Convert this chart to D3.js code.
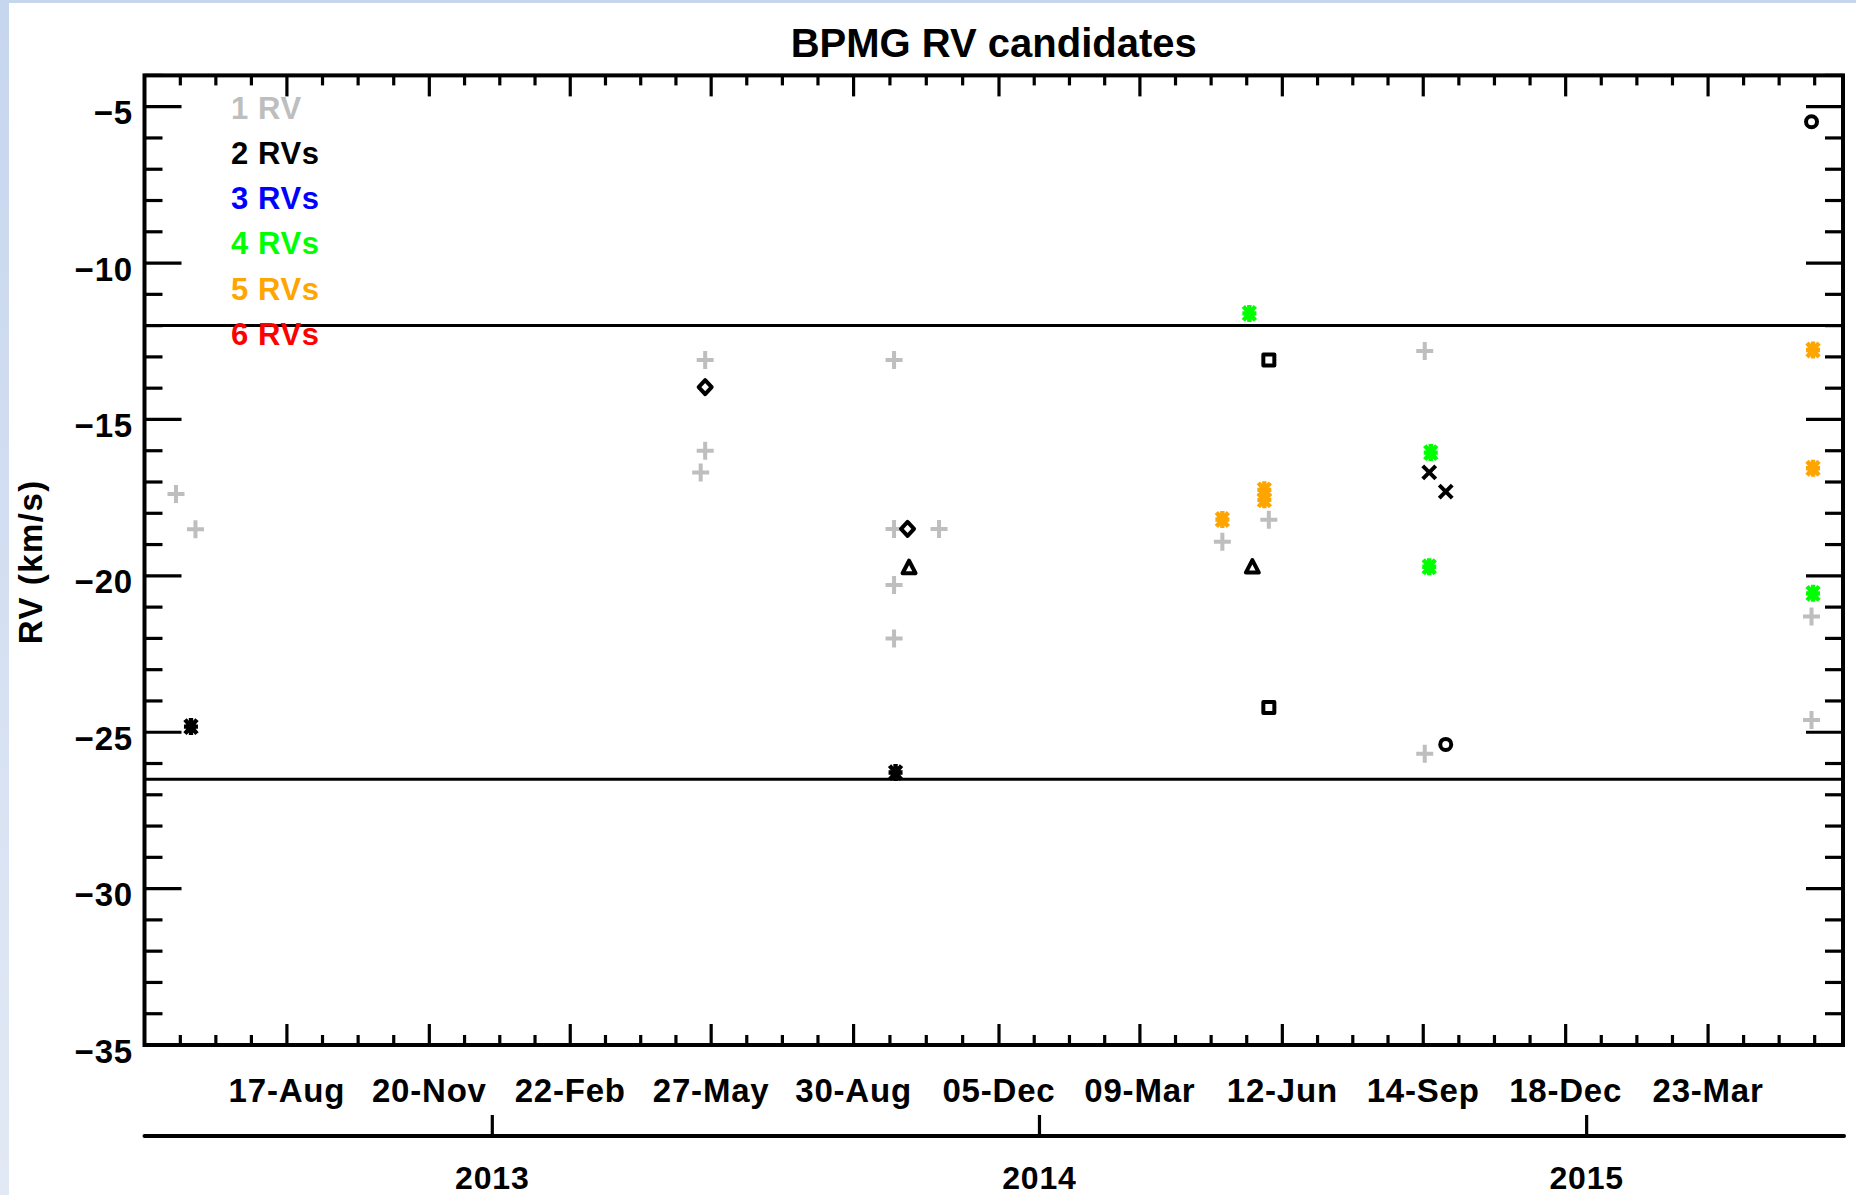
<!DOCTYPE html>
<html><head><meta charset="utf-8">
<script src="https://cdn.jsdelivr.net/npm/d3@7"></script>
<style>html,body{margin:0;padding:0;background:#fff;} svg{display:block;}</style>
</head><body>
<svg id="chart" width="1856" height="1195"></svg>
<script>
// ---------------- data ----------------
const title = "BPMG RV candidates";
const yLabel = "RV (km/s)";
const yDomain = [-35, -4];
const yTickValues = [-35, -30, -25, -20, -15, -10, -5];
const xDomain = ["2012-05-14", "2015-06-21"];
const xTickDates = ["2012-08-17","2012-11-20","2013-02-22","2013-05-27","2013-08-30","2013-12-05","2014-03-09","2014-06-12","2014-09-14","2014-12-18","2015-03-23"];
const xTickLabels = ["17-Aug","20-Nov","22-Feb","27-May","30-Aug","05-Dec","09-Mar","12-Jun","14-Sep","18-Dec","23-Mar"];
const yearTickDates = ["2013-01-01","2014-01-01","2015-01-01"];
const yearLabels = ["2013","2014","2015"];
const refLines = [-12, -26.5];
const legendLabels = ["1 RV","2 RVs","3 RVs","4 RVs","5 RVs","6 RVs"];
const legendColors = ["#bebebe","#000000","#0000ff","#00ff00","#ffa500","#ff0000"];

// [date, RV (km/s), symbol]
const oneRV = [
  ["2012-06-04", -17.38, "plus"], ["2012-06-17", -18.51, "plus"],
  ["2013-05-23", -13.10, "plus"], ["2013-05-23", -16.00, "plus"], ["2013-05-20", -16.70, "plus"],
  ["2013-09-26", -13.10, "plus"], ["2013-09-26", -18.50, "plus"], ["2013-10-26", -18.50, "plus"],
  ["2013-09-26", -20.29, "plus"], ["2013-09-26", -22.00, "plus"],
  ["2014-05-03", -18.91, "plus"], ["2014-06-03", -18.21, "plus"],
  ["2014-09-15", -12.81, "plus"], ["2014-09-15", -25.69, "plus"],
  ["2015-05-31", -21.30, "plus"], ["2015-05-31", -24.61, "plus"]
];
const twoRVs = [
  ["2012-06-14", -24.82, "asterisk"],
  ["2013-05-23", -13.97, "diamond"],
  ["2013-10-05", -18.50, "diamond"],
  ["2013-10-06", -19.74, "triangle"],
  ["2013-09-27", -26.29, "asterisk"],
  ["2014-05-23", -19.72, "triangle"],
  ["2014-06-03", -13.10, "square"],
  ["2014-06-03", -24.21, "square"],
  ["2014-09-18", -16.69, "cross"],
  ["2014-09-29", -17.31, "cross"],
  ["2014-09-29", -25.39, "circle"],
  ["2015-05-31", -5.48, "circle"]
];
const threeRVs = [];
const fourRVs = [
  ["2014-05-21", -11.61, "asterisk"],
  ["2014-09-19", -16.06, "asterisk"],
  ["2014-09-18", -19.71, "asterisk"],
  ["2015-06-01", -20.56, "asterisk"]
];
const fiveRVs = [
  ["2014-05-03", -18.20, "asterisk"],
  ["2014-05-31", -17.25, "asterisk"],
  ["2014-05-31", -17.57, "asterisk"],
  ["2015-06-01", -12.78, "asterisk"],
  ["2015-06-01", -16.56, "asterisk"]
];
const sixRVs = [];
const seriesList = [oneRV, twoRVs, threeRVs, fourRVs, fiveRVs, sixRVs];

// ---------------- layout ----------------
const W = 1856, H = 1195;
const L = 144.5, R = 1843, T = 75.4, B = 1045;
const FONT = "'Liberation Sans', Arial, sans-serif";
const parse = d3.utcParse("%Y-%m-%d");

const svg = d3.select("#chart");
svg.append("rect").attr("width", W).attr("height", H).attr("fill", "#fff");

// window frame (light blue edges)
const defs = svg.append("defs");
const grad = defs.append("linearGradient").attr("id", "edge").attr("x1", 0).attr("y1", 0).attr("x2", 0).attr("y2", 1);
grad.append("stop").attr("offset", "0%").attr("stop-color", "#c6d6ee");
grad.append("stop").attr("offset", "100%").attr("stop-color", "#e2e9f5");
svg.append("rect").attr("x", 0).attr("y", 0).attr("width", 9).attr("height", H).attr("fill", "url(#edge)");
svg.append("rect").attr("x", 0).attr("y", 0).attr("width", W).attr("height", 3).attr("fill", "#c6d6ee");

const x = d3.scaleUtc().domain(xDomain.map(parse)).range([L, R]);
const y = d3.scaleLinear().domain(yDomain).range([B, T]);

const ink = "#000";
const g = svg.append("g");

// title
g.append("text").attr("x", (L + R) / 2).attr("y", 56.5).attr("text-anchor", "middle")
  .attr("font-family", FONT).attr("font-weight", "bold").attr("font-size", 40).attr("fill", ink).text(title);

// y label
g.append("text").attr("transform", `translate(41.5, ${561.7}) rotate(-90)`).attr("text-anchor", "middle")
  .attr("font-family", FONT).attr("font-weight", "bold").attr("font-size", 33).attr("letter-spacing", 1.5)
  .attr("fill", ink).text(yLabel);

// reference lines
g.selectAll("line.ref").data(refLines).join("line").attr("class", "ref")
  .attr("x1", L).attr("x2", R).attr("y1", d => y(d)).attr("y2", d => y(d))
  .attr("stroke", ink).attr("stroke-width", 3);

// ---- x ticks (major + minor, top and bottom) ----
const majorX = xTickDates.map(parse).map(d => x(d));
const step = (majorX[majorX.length - 1] - majorX[0]) / (majorX.length - 1);
const minorX = [];
for (let i = 0; i < majorX.length - 1; i++) {
  const a = majorX[i], b = majorX[i + 1];
  for (let k = 1; k < 4; k++) minorX.push(a + (b - a) * k / 4);
}
for (let k = 1; k < 4; k++) {
  const p = majorX[0] - step * k / 4; if (p > L + 1) minorX.push(p);
  const q = majorX[majorX.length - 1] + step * k / 4; if (q < R - 1) minorX.push(q);
}
const xMajLen = 21, xMinLen = 10, yMajLen = 37, yMinLen = 18;
const tickStroke = 3.2;
majorX.forEach(px => {
  g.append("line").attr("x1", px).attr("x2", px).attr("y1", B).attr("y2", B - xMajLen).attr("stroke", ink).attr("stroke-width", tickStroke);
  g.append("line").attr("x1", px).attr("x2", px).attr("y1", T).attr("y2", T + xMajLen).attr("stroke", ink).attr("stroke-width", tickStroke);
});
minorX.forEach(px => {
  g.append("line").attr("x1", px).attr("x2", px).attr("y1", B).attr("y2", B - xMinLen).attr("stroke", ink).attr("stroke-width", tickStroke);
  g.append("line").attr("x1", px).attr("x2", px).attr("y1", T).attr("y2", T + xMinLen).attr("stroke", ink).attr("stroke-width", tickStroke);
});
g.selectAll("text.xt").data(xTickLabels).join("text").attr("class", "xt")
  .attr("x", (d, i) => majorX[i]).attr("y", 1101.7).attr("text-anchor", "middle")
  .attr("font-family", FONT).attr("font-weight", "bold").attr("font-size", 33).attr("letter-spacing", 0.8)
  .attr("fill", ink).text(d => d);

// ---- y ticks ----
const yMinor = d3.range(yDomain[0], yDomain[1] + 1, 1).filter(v => !yTickValues.includes(v));
yTickValues.forEach(v => {
  const py = y(v);
  g.append("line").attr("x1", L).attr("x2", L + yMajLen).attr("y1", py).attr("y2", py).attr("stroke", ink).attr("stroke-width", tickStroke);
  g.append("line").attr("x1", R).attr("x2", R - yMajLen).attr("y1", py).attr("y2", py).attr("stroke", ink).attr("stroke-width", tickStroke);
});
yMinor.forEach(v => {
  const py = y(v);
  g.append("line").attr("x1", L).attr("x2", L + yMinLen).attr("y1", py).attr("y2", py).attr("stroke", ink).attr("stroke-width", tickStroke);
  g.append("line").attr("x1", R).attr("x2", R - yMinLen).attr("y1", py).attr("y2", py).attr("stroke", ink).attr("stroke-width", tickStroke);
});
const fmt = d3.format("d");
g.selectAll("text.yt").data(yTickValues).join("text").attr("class", "yt")
  .attr("x", 133).attr("y", d => y(d) + 17.5).attr("text-anchor", "end")
  .attr("font-family", FONT).attr("font-weight", "bold").attr("font-size", 33).attr("letter-spacing", 0.8)
  .attr("fill", ink).text(d => fmt(d));

// frame
g.append("rect").attr("x", L).attr("y", T).attr("width", R - L).attr("height", B - T)
  .attr("fill", "none").attr("stroke", ink).attr("stroke-width", 4);

// ---- year axis ----
const yearY = 1136;
g.append("line").attr("x1", L).attr("x2", R + 1).attr("y1", yearY).attr("y2", yearY).attr("stroke", ink).attr("stroke-width", 4).attr("stroke-linecap", "round");
const yearX = yearTickDates.map(parse).map(d => x(d));
yearX.forEach(px => g.append("line").attr("x1", px).attr("x2", px).attr("y1", yearY).attr("y2", yearY - 21).attr("stroke", ink).attr("stroke-width", tickStroke));
g.selectAll("text.yr").data(yearLabels).join("text").attr("class", "yr")
  .attr("x", (d, i) => yearX[i]).attr("y", 1189.3).attr("text-anchor", "middle")
  .attr("font-family", FONT).attr("font-weight", "bold").attr("font-size", 32).attr("letter-spacing", 0.8)
  .attr("fill", ink).text(d => d);

// ---- legend ----
g.selectAll("text.lg").data(legendLabels).join("text").attr("class", "lg")
  .attr("x", 231).attr("y", (d, i) => 118.5 + i * 45.3)
  .attr("font-family", FONT).attr("font-weight", "bold").attr("font-size", 31).attr("letter-spacing", 0.6)
  .attr("fill", (d, i) => legendColors[i]).text(d => d);

// ---- symbols ----
function symPath(s) {
  switch (s) {
    case "plus": return "M-8.5,0L8.5,0M0,-9L0,9";
    case "asterisk": return "M-7,0L7,0M0,-8.5L0,8.5M-6,-7L6,7M-6,7L6,-7";
    case "diamond": return "M0,-7L6.5,0L0,7L-6.5,0Z";
    case "triangle": return "M0,-7L6.5,5.5L-6.5,5.5Z";
    case "square": return "M-5.5,-5.5L5.5,-5.5L5.5,5.5L-5.5,5.5Z";
    case "cross": return "M-6.5,-6.5L6.5,6.5M-6.5,6.5L6.5,-6.5";
    case "circle": return "M-5.5,0A5.5,5.5 0 1 0 5.5,0A5.5,5.5 0 1 0 -5.5,0Z";
  }
  return "";
}
function symWidth(s) {
  if (s === "plus") return 4;
  if (s === "asterisk") return 4.4;
  return 4;
}
const pts = g.append("g");
seriesList.forEach((ser, si) => {
  pts.selectAll(null).data(ser).join("path")
    .attr("transform", d => `translate(${x(parse(d[0]))},${y(d[1])})`)
    .attr("d", d => symPath(d[2]))
    .attr("fill", "none")
    .attr("stroke", legendColors[si])
    .attr("stroke-width", d => symWidth(d[2]))
    .attr("stroke-linejoin", "round");
});
</script>
</body></html>
